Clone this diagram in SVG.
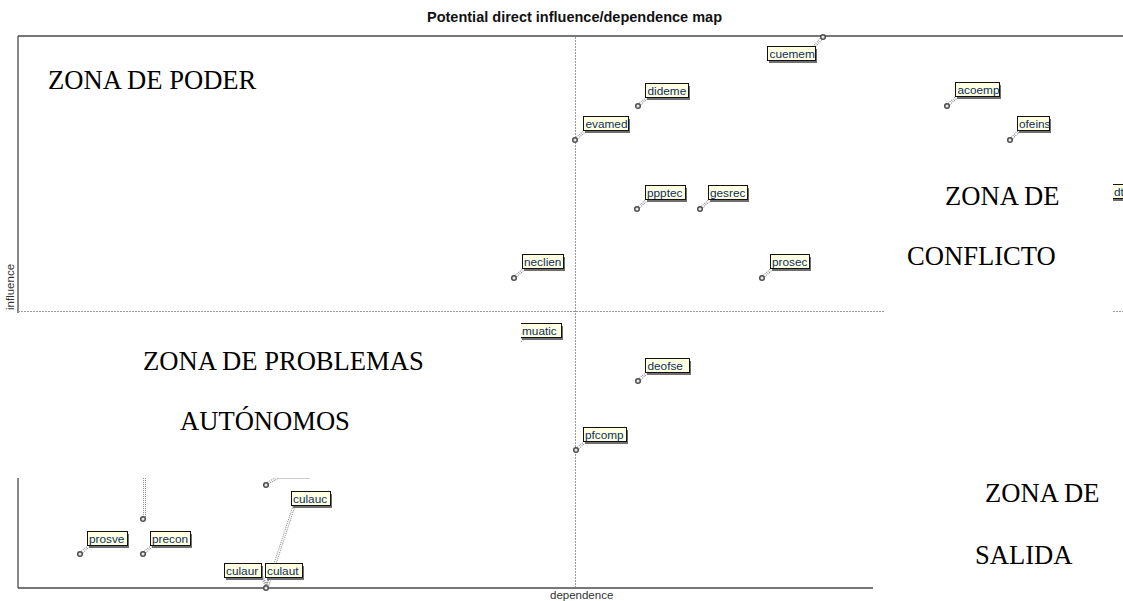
<svg xmlns="http://www.w3.org/2000/svg" width="1123" height="601" viewBox="0 0 1123 601">
  <style>
    .title { font-family: "Liberation Sans", Arial, sans-serif; font-weight: bold; font-size: 14px; fill: #111; }
    .axis-lbl { font-family: "Liberation Sans", Arial, sans-serif; font-size: 11.5px; fill: #333; }
    .axis { stroke: #4a4a4a; stroke-width: 1.3; fill: none; }
    .grid { stroke: #9a9a9a; stroke-width: 1; stroke-dasharray: 2 1; fill: none; }
    .lead-o { stroke: #8f8f8f; stroke-width: 3; stroke-dasharray: 1 1; fill: none; }
    .lead-i { stroke: #fff; stroke-width: 1; fill: none; }
    .pt { fill: #e6e6e6; stroke: #4f4f4f; stroke-width: 1.5; }
    .shd { fill: #6f6f6f; }
    .box { fill: #ffffe1; stroke: #111; stroke-width: 1; }
    .lbl { font-family: "Liberation Sans", Arial, sans-serif; font-size: 11.8px; fill: #0b2f5f; }
    .mask { fill: #fff; }
    .zone { font-family: "Liberation Serif", "Times New Roman", serif; font-size: 26.6px; fill: #000; }
  </style>

  <rect width="1123" height="601" fill="#fff"/>

  <!-- title -->
  <text class="title" x="427" y="22" textLength="295" lengthAdjust="spacingAndGlyphs">Potential direct influence/dependence map</text>

  <!-- frame and quadrant guides -->
  <g id="frame">
    <line class="axis" x1="18" y1="36" x2="1123" y2="36"/>
    <line class="axis" x1="18" y1="36" x2="18" y2="588"/>
    <line class="axis" x1="18" y1="588" x2="873" y2="588"/>
    <line class="grid" x1="575.5" y1="37" x2="575.5" y2="587"/>
    <line class="grid" x1="18" y1="311.5" x2="1123" y2="311.5"/>
    <text class="axis-lbl" x="550" y="599">dependence</text>
    <text class="axis-lbl" transform="translate(14,310) rotate(-90)">influence</text>
  </g>

  <!-- leader lines from points to labels -->
  <g id="connectors">
    <path class="lead-o" d="M821 39 L813 48 M640 104 L648 97 M577 138 L586 130 M949 104 L958 96 M1012 138 L1020 130 M639 207 L648 199 M702 207 L711 199 M516 276 L525 268 M764 276 L773 268 M516 345 L525 337 M640 379 L648 372 M578 448 L586 441 M82 552 L90 545 M145 552 L153 545 M144.5 517 L144.5 478 M268 483 L277 478 M268 585 L294 506 M266 585 L262 577 M267 585 L270 577"/>
    <path class="lead-i" d="M821 39 L813 48 M640 104 L648 97 M577 138 L586 130 M949 104 L958 96 M1012 138 L1020 130 M639 207 L648 199 M702 207 L711 199 M516 276 L525 268 M764 276 L773 268 M516 345 L525 337 M640 379 L648 372 M578 448 L586 441 M82 552 L90 545 M145 552 L153 545 M144.5 517 L144.5 478 M268 483 L277 478 M268 585 L294 506"/>
    <line x1="277" y1="478" x2="310" y2="478" stroke="#9a9a9a" stroke-width="1"/>
  </g>

  <g id="n-cuemem">
    <circle class="pt" cx="823" cy="37" r="2.3"/>
    <rect class="shd" x="769" y="49" width="48" height="14"/>
    <rect class="box" x="767.5" y="46.5" width="48" height="14"/>
    <text class="lbl" x="769.5" y="57.5">cuemem</text>
  </g>
  <g id="n-dideme">
    <circle class="pt" cx="638" cy="106" r="2.3"/>
    <rect class="shd" x="647" y="86" width="43" height="14"/>
    <rect class="box" x="645.5" y="83.5" width="43" height="14"/>
    <text class="lbl" x="647.5" y="94.5">dideme</text>
  </g>
  <g id="n-evamed">
    <circle class="pt" cx="575" cy="140" r="2.3"/>
    <rect class="shd" x="585" y="119" width="45" height="14"/>
    <rect class="box" x="583.5" y="116.5" width="45" height="14"/>
    <text class="lbl" x="585.5" y="127.5">evamed</text>
  </g>
  <g id="n-acoemp">
    <circle class="pt" cx="947" cy="106" r="2.3"/>
    <rect class="shd" x="957" y="85" width="44" height="14"/>
    <rect class="box" x="955.5" y="82.5" width="44" height="14"/>
    <text class="lbl" x="957.5" y="93.5">acoemp</text>
  </g>
  <g id="n-ofeins">
    <circle class="pt" cx="1010" cy="140" r="2.3"/>
    <rect class="shd" x="1019" y="119" width="32" height="14"/>
    <rect class="box" x="1017.5" y="116.5" width="32" height="14"/>
    <text class="lbl" x="1019" y="127.5">ofeins</text>
  </g>
  <g id="n-ppptec">
    <circle class="pt" cx="637" cy="209" r="2.3"/>
    <rect class="shd" x="647" y="188" width="40" height="14"/>
    <rect class="box" x="645.5" y="185.5" width="40" height="14"/>
    <text class="lbl" x="647" y="196.5">ppptec</text>
  </g>
  <g id="n-gesrec">
    <circle class="pt" cx="700" cy="209" r="2.3"/>
    <rect class="shd" x="710" y="188" width="39" height="14"/>
    <rect class="box" x="708.5" y="185.5" width="39" height="14"/>
    <text class="lbl" x="710" y="196.5">gesrec</text>
  </g>
  <g id="n-neclien">
    <circle class="pt" cx="514" cy="278" r="2.3"/>
    <rect class="shd" x="524" y="257" width="41" height="14"/>
    <rect class="box" x="522.5" y="254.5" width="41" height="14"/>
    <text class="lbl" x="524" y="265.5">neclien</text>
  </g>
  <g id="n-prosec">
    <circle class="pt" cx="762" cy="278" r="2.3"/>
    <rect class="shd" x="772" y="257" width="39" height="14"/>
    <rect class="box" x="770.5" y="254.5" width="39" height="14"/>
    <text class="lbl" x="772" y="265.5">prosec</text>
  </g>
  <g id="n-muatic">
    <circle class="pt" cx="514" cy="347" r="2.3"/>
    <rect class="shd" x="522" y="326" width="41" height="14"/>
    <rect class="box" x="520.5" y="323.5" width="41" height="14"/>
    <text class="lbl" x="522" y="334.5">muatic</text>
  </g>
  <g id="n-deofse">
    <circle class="pt" cx="638" cy="381" r="2.3"/>
    <rect class="shd" x="647" y="361" width="44" height="14"/>
    <rect class="box" x="645.5" y="358.5" width="44" height="14"/>
    <text class="lbl" x="647.5" y="369.5">deofse</text>
  </g>
  <g id="n-pfcomp">
    <circle class="pt" cx="576" cy="450" r="2.3"/>
    <rect class="shd" x="585" y="430" width="43" height="14"/>
    <rect class="box" x="583.5" y="427.5" width="43" height="14"/>
    <text class="lbl" x="585" y="438.5">pfcomp</text>
  </g>
  <g id="n-prosve">
    <circle class="pt" cx="80" cy="554" r="2.3"/>
    <rect class="shd" x="89" y="534" width="40" height="14"/>
    <rect class="box" x="87.5" y="531.5" width="40" height="14"/>
    <text class="lbl" x="89" y="542.5">prosve</text>
  </g>
  <g id="n-precon">
    <circle class="pt" cx="143" cy="554" r="2.3"/>
    <rect class="shd" x="152" y="534" width="40" height="14"/>
    <rect class="box" x="150.5" y="531.5" width="40" height="14"/>
    <text class="lbl" x="152" y="542.5">precon</text>
  </g>
  <g id="n-p1">
    <circle class="pt" cx="143" cy="519" r="2.3"/>
  </g>
  <g id="n-p2">
    <circle class="pt" cx="266" cy="485" r="2.3"/>
  </g>
  <g id="n-culauc">
    <rect class="shd" x="293" y="494" width="39" height="14"/>
    <rect class="box" x="291.5" y="491.5" width="39" height="14"/>
    <text class="lbl" x="293" y="502.5">culauc</text>
  </g>
  <g id="n-culaur">
    <rect class="shd" x="226" y="566" width="37" height="14"/>
    <rect class="box" x="224.5" y="563.5" width="37" height="14"/>
    <text class="lbl" x="226" y="574.5">culaur</text>
  </g>
  <g id="n-culaut">
    <rect class="shd" x="267" y="566" width="37" height="14"/>
    <rect class="box" x="265.5" y="563.5" width="37" height="14"/>
    <text class="lbl" x="267" y="574.5">culaut</text>
    <circle class="pt" cx="266" cy="588" r="2.3"/>
  </g>
  <g id="n-dt">
    <rect class="shd" x="1110" y="187" width="30" height="14"/>
    <rect class="box" x="1108.5" y="184.5" width="30" height="14"/>
    <text class="lbl" x="1114" y="195.5">dt</text>
  </g>

  <!-- zone text boxes laid over the chart -->
  <g id="zones">
    <rect class="mask" x="0" y="313" width="521" height="165"/>
    <rect class="mask" x="885" y="150" width="228" height="166"/>
    <rect class="mask" x="873" y="316" width="250" height="285"/>
    <text class="zone" x="48" y="89">ZONA DE PODER</text>
    <text class="zone" x="143" y="370">ZONA DE PROBLEMAS</text>
    <text class="zone" x="180" y="430">AUTÓNOMOS</text>
    <text class="zone" x="945" y="205">ZONA DE</text>
    <text class="zone" x="907" y="265">CONFLICTO</text>
    <text class="zone" x="985" y="502">ZONA DE</text>
    <text class="zone" x="975" y="564">SALIDA</text>
  </g>
</svg>
